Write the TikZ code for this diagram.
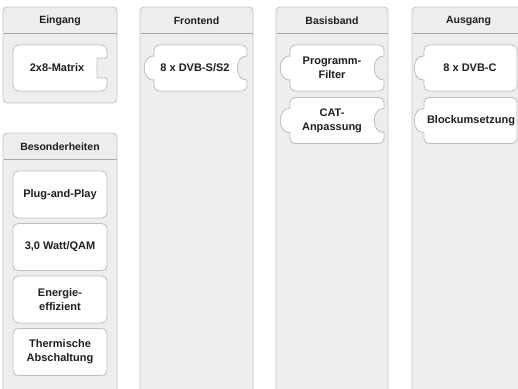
\documentclass[tikz,border=0pt]{standalone}
\usepackage{fontspec}
\setmainfont{Liberation Sans}
\definecolor{panelfill}{HTML}{EDEDED}
\definecolor{headfill}{HTML}{F0F0F0}
\definecolor{panelline}{HTML}{C8C8C8}
\definecolor{divline}{HTML}{A9A9A9}
\definecolor{boxline}{HTML}{BDBDBD}
\definecolor{txt}{HTML}{1E1E1E}
\tikzset{
  panelst/.style={draw=panelline, fill=panelfill, line width=0.9pt, rounded corners=4pt},
  headst/.style={font=\bfseries\fontsize{10.5}{13}\selectfont, text=txt, inner sep=0pt},
  divst/.style={draw=divline, line width=1.6pt},
  boxst/.style={draw=boxline, fill=white, line width=0.8pt},
  boxtext/.style={font=\bfseries\fontsize{11}{14}\selectfont, text=txt, align=center, inner sep=0pt}
}
% panel: x1 y1 x2 y2
\newcommand\mypanel[4]{%
  \path[panelst] (#1,#2) rectangle (#3,#4);
  \draw[divst] (#1+0.5,#2+26.5) -- (#3-0.5,#2+26.5);
}
% puzzle box: x1 y1 x2 y2 lefttype righttype
\newcommand\mybox[6]{%
  \def\bx{#1}\def\by{#2}\def\bX{#3}\def\bY{#4}%
  \pgfmathsetmacro\bc{(#2+#4)/2}%
  \ifcase#5 \def\lside{}%
  \or \def\lside{-- (\bx,\bc+12) .. controls (\bx-13,\bc+13) and (\bx-13,\bc-13) .. (\bx,\bc-12)}%
  \fi
  \ifcase#6 \def\rside{}%
  \or \def\rside{-- (\bX,\bc-12.5) .. controls (\bX,\bc-10) .. (\bX-2.5,\bc-10) -- (\bX-7.5,\bc-10) .. controls (\bX-10,\bc-10) .. (\bX-10,\bc-7.5) -- (\bX-10,\bc+7.5) .. controls (\bX-10,\bc+10) .. (\bX-7.5,\bc+10) -- (\bX-2.5,\bc+10) .. controls (\bX,\bc+10) .. (\bX,\bc+12.5)}%
  \or \def\rside{-- (\bX,\bc-12) .. controls (\bX-13,\bc-13) and (\bX-13,\bc+13) .. (\bX,\bc+12)}%
  \fi
  \path[boxst] (\bx+5,\by) -- (\bX-5,\by) .. controls (\bX-2.2,\by) and (\bX,\by+2.2) .. (\bX,\by+5)
    \rside
    -- (\bX,\bY-5) .. controls (\bX,\bY-2.2) and (\bX-2.2,\bY) .. (\bX-5,\bY)
    -- (\bx+5,\bY) .. controls (\bx+2.2,\bY) and (\bx,\bY-2.2) .. (\bx,\bY-5)
    \lside
    -- (\bx,\by+5) .. controls (\bx,\by+2.2) and (\bx+2.2,\by) .. (\bx+5,\by) -- cycle;
}
\begin{document}
\begin{tikzpicture}[x=1pt,y=-1pt]
\useasboundingbox (0,0) rectangle (518,388);
\clip (0,0) rectangle (518,388);
\fill[white] (0,0) rectangle (518,388);
% panels
\mypanel{3}{7}{117}{103}
\mypanel{3}{133}{117}{410}
\mypanel{140}{7}{253}{410}
\mypanel{276}{7}{388}{410}
\mypanel{412}{7}{525}{410}
\node[headst] (hEin) at (60,20.5) {Eingang};
\node[headst] (hBes) at (60,146.5) {Besonderheiten};
\node[headst] (hFro) at (196.5,20.5) {Frontend};
\node[headst] (hBas) at (332,20.5) {Basisband};
\node[headst] (hAus) at (468.5,20.5) {Ausgang};
% boxes
\mybox{13}{45}{107}{91}{0}{1}
\node[boxtext] (matrix) at (57,68) {2x8-Matrix};
\mybox{154}{45}{247}{91}{1}{2}
\node[boxtext] (dvbs) at (195,68) {8 x DVB-S/S2};
\mybox{290}{45}{384}{91}{1}{2}
\node[boxtext] (filter) at (332,68) {Programm-\\Filter};
\mybox{290}{97.5}{384}{143.5}{1}{2}
\node[boxtext] (cat) at (332,120.5) {CAT-\\Anpassung};
\mybox{424}{45}{517}{91}{1}{0}
\node[boxtext] (dvbc) at (470,68) {8 x DVB-C};
\mybox{424}{97.5}{517}{143.5}{1}{0}
\node[boxtext] (block) at (471,120.5) {Blockumsetzung};
\mybox{13}{171}{107}{218}{0}{0}
\node[boxtext] (plug) at (60,194.5) {Plug-and-Play};
\mybox{13}{223.5}{107}{270.5}{0}{0}
\node[boxtext] (watt) at (60,247) {3,0 Watt/QAM};
\mybox{13}{276}{107}{323}{0}{0}
\node[boxtext] (energie) at (60,299.5) {Energie-\\effizient};
\mybox{13}{328.5}{107}{375.5}{0}{0}
\node[boxtext] (therm) at (60,352) {Thermische\\Abschaltung};
\end{tikzpicture}
\end{document}
